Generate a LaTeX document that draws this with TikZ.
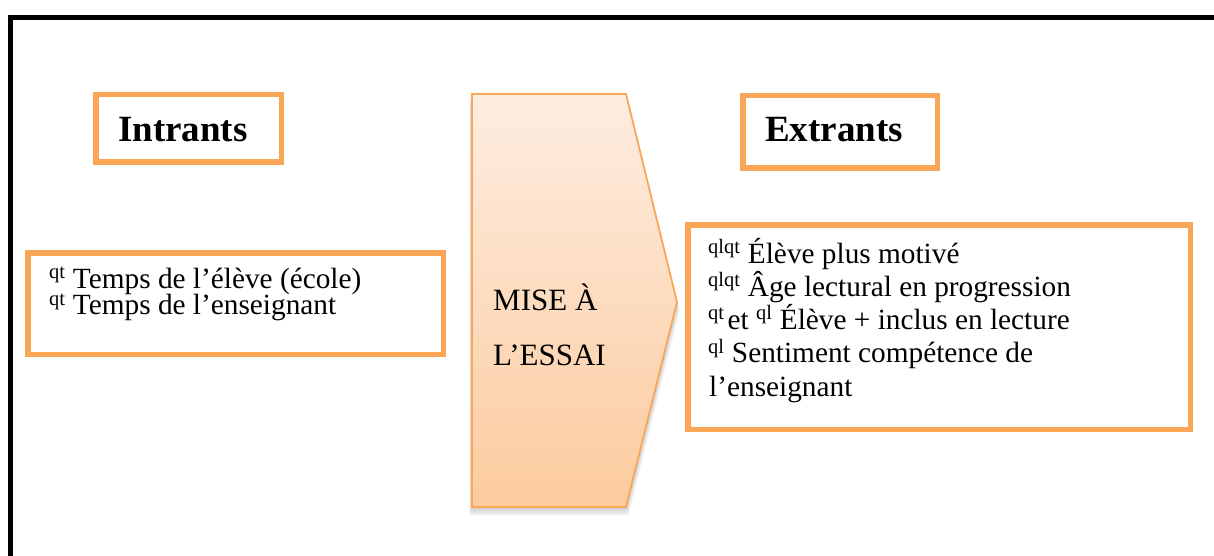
\documentclass[tikz,border=0pt]{standalone}
\usepackage{fontspec}
\setmainfont{Liberation Serif}
\definecolor{boxorange}{RGB}{249,166,86}
\definecolor{gradtop}{RGB}{253,237,225}
\definecolor{gradbot}{RGB}{252,203,158}
\begin{document}
\begin{tikzpicture}[x=1pt,y=-1pt,
  obox/.style={draw=boxorange, line width=5.5pt, inner sep=0pt, fill=white},
  headtxt/.style={anchor=base west, inner sep=0pt, font=\fontsize{37}{40}\selectfont\bfseries},
  bodytxt/.style={anchor=base west, inner sep=0pt, font=\fontsize{29.3}{33}\selectfont},
  arrowtxt/.style={anchor=base west, inner sep=0pt, font=\fontsize{31}{36}\selectfont}]
\useasboundingbox (0,0) rectangle (1214,556);
% outer frame (clipped at right and bottom)
\draw[line width=5pt, line join=miter] (10.8,570) -- (10.8,17.5) -- (1230,17.5);
% heading boxes
\node[obox, minimum width=185.5pt, minimum height=67.5pt] (intrants) at (188.5,128.5) {};
\node[obox, minimum width=194.5pt, minimum height=72.5pt] (extrants) at (840,132) {};
\node[headtxt] (intrantsT) at (118,141.5) {Intrants};
\node[headtxt] (extrantsT) at (765,141.5) {Extrants};
% input box
\node[obox, minimum width=415.5pt, minimum height=101.5pt] (inbox) at (235.5,303.5) {};
\node[bodytxt] (in1) at (49,288) {\textsuperscript{qt} Temps de l’élève (école)};
\node[bodytxt] (in2) at (49,314.5) {\textsuperscript{qt} Temps de l’enseignant};
% output box
\node[obox, minimum width=502.5pt, minimum height=204.5pt] (outbox) at (939,327) {};
\node[bodytxt] (out1) at (708,263) {\textsuperscript{qlqt} Élève plus motivé};
\node[bodytxt] (out2) at (708,296) {\textsuperscript{qlqt} Âge lectural en progression};
\node[bodytxt] (out3) at (708,329) {\textsuperscript{qt}\hspace{3pt}et \textsuperscript{ql} Élève + inclus en lecture};
\node[bodytxt] (out4) at (708,362.5) {\textsuperscript{ql} Sentiment compétence de};
\node[bodytxt] (out5) at (709,396) {l’enseignant};
% soft shadow of the central arrow
\foreach \s in {1,...,9}{
  \fill[black, opacity=0.022]
    (472-0.3*\s,94+\s) -- (626+0.3*\s,94+\s) -- (677+0.3*\s,302+\s) -- (626+0.3*\s,507+\s) -- (472-0.3*\s,507+\s) -- cycle;
}
% central arrow shape
\path[draw=boxorange, line width=1.8pt, line join=miter, top color=gradtop, bottom color=gradbot]
  (472,94) -- (626,94) -- (677,302) -- (626,507) -- (472,507) -- cycle;
\node[arrowtxt] (mise1) at (493,310) {MISE À};
\node[arrowtxt] (mise2) at (493,365) {L’ESSAI};
\end{tikzpicture}
\end{document}
